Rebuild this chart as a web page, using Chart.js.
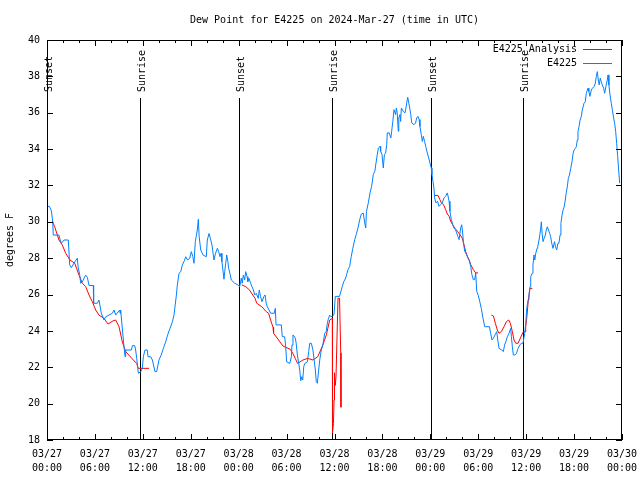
<!DOCTYPE html>
<html><head><meta charset="utf-8">
<script src="https://cdn.jsdelivr.net/npm/chart.js@4.4.1/dist/chart.umd.min.js"></script>
<style>html,body{margin:0;padding:0;background:#fff;}#wrap{width:640px;height:480px;}</style>
</head><body><div id="wrap"><canvas id="c" width="640" height="480" style="width:640px;height:480px"></canvas></div>
<script>
const chartTitle = 'Dew Point for E4225 on 2024-Mar-27 (time in UTC)';
const yAxisTitle = 'degrees F';
const seriesNames = ['E4225_Analysis', 'E4225'];
const seriesColors = ['#ff0000', '#0080ff'];
const xTickDates = ['03/27','03/27','03/27','03/27','03/28','03/28','03/28','03/28','03/29','03/29','03/29','03/29','03/30'];
const xTickTimes = ['00:00','06:00','12:00','18:00','00:00','06:00','12:00','18:00','00:00','06:00','12:00','18:00','00:00'];
const eventHours = [0.03, 11.69, 24.08, 35.72, 48.12, 59.65];
const eventLabels = ['Sunset','Sunrise','Sunset','Sunrise','Sunset','Sunrise'];

// E4225 observations: hours since 03/27 00:00 UTC, dew point (F)
const blueHours = [
0.0,0.3,0.55,0.72,0.78,1.5,1.65,1.8,2.13,2.67,
2.84,3.05,3.38,3.8,3.9,4.09,4.22,4.42,4.84,5.05,
5.26,5.8,5.84,6.3,6.51,6.8,7.14,7.35,7.76,8.18,
8.39,8.6,9.1,9.15,9.22,9.64,9.77,9.85,10.56,10.7,
10.98,11.1,11.23,11.44,11.75,11.94,12.06,12.27,12.56,12.65,
12.98,13.2,13.52,13.73,14.02,14.3,14.57,14.86,15.1,15.4,
15.7,15.9,16.05,16.2,16.32,16.53,16.75,16.95,17.15,17.37,
17.6,17.87,
18.07,18.25,18.41,18.57,18.82,18.95,19.05,19.25,19.55,19.95,
20.07,20.29,20.45,20.66,20.91,21.1,21.33,21.5,21.66,21.8,
21.9,22.0,22.16,22.25,22.38,22.5,22.65,22.75,22.9,23.08,
23.5,23.92,24.13,24.25,24.33,24.45,24.58,24.75,24.88,25.05,
25.15,25.29,25.5,25.67,25.85,26.01,26.2,26.45,26.58,26.75,
26.92,27.15,27.3,27.45,27.59,27.8,28.01,28.45,28.59,28.68,
29.34,29.46,29.76,29.89,30.01,30.4,30.6,30.68,30.8,31.1,
31.2,31.35,31.52,31.65,31.77,31.9,32.02,32.15,32.27,32.6,
32.77,32.9,33.1,33.3,33.45,33.6,33.72,33.85,34.02,34.15,
34.35,34.55,34.77,34.95,35.1,35.25,35.4,35.55,35.75,35.94,
36.1,36.63,36.98,37.15,37.4,37.55,37.69,37.9,38.1,38.3,
38.53,38.72,38.94,39.15,39.36,39.6,39.78,39.91,40.0,40.23,
40.45,40.65,40.86,41.05,41.29,41.49,41.7,41.78,41.95,42.11,
42.25,42.4,42.54,42.61,42.85,43.05,43.16,43.3,43.45,43.65,
43.75,43.85,43.99,44.05,44.2,44.28,44.37,44.6,44.82,44.95,
45.04,45.17,45.3,45.42,45.55,45.67,45.95,46.15,46.29,46.45,
46.6,46.7,46.87,47.0,47.12,47.28,47.42,47.62,47.8,47.95,
48.12,48.2,48.33,48.45,48.54,48.7,48.9,49.09,49.3,49.5,
49.7,49.9,50.13,50.35,50.45,50.63,50.8,50.95,51.15,51.3,
51.45,51.6,51.8,51.93,52.05,52.13,52.3,52.55,52.72,52.9,
53.06,53.2,53.38,53.55,53.68,53.81,54.0,
54.18,54.38,54.6,54.81,55.4,55.55,55.72,55.9,56.1,56.31,
56.45,56.6,56.95,57.14,57.3,57.45,57.64,57.85,58.06,58.15,
58.27,58.39,58.6,58.8,58.98,59.2,59.39,59.6,59.82,59.95,
60.07,60.25,60.35,60.48,60.57,60.75,60.85,60.98,61.08,61.2,
61.36,61.45,61.61,61.7,61.8,61.9,62.0,62.11,62.25,62.4,
62.52,62.65,62.8,62.95,63.07,63.2,63.36,63.55,63.68,63.82,
63.98,64.1,64.24,64.35,64.49,64.62,64.75,64.9,65.0,65.15,
65.28,65.42,65.58,65.74,65.88,66.0,66.15,66.28,66.4,66.49,
66.62,66.75,66.9,67.02,67.24,67.4,67.53,67.75,67.85,67.98,
68.16,68.3,68.5,68.66,68.78,68.91,69.03,69.15,69.28,69.4,
69.53,69.7,69.83,69.98,70.16,70.25,70.36,70.5,70.66,70.8,
70.96,71.08,71.21,71.33,71.46,71.58,71.71
];
const blueDew = [
30.85,30.85,30.6,30.0,29.27,29.27,29.0,28.82,29.0,29.0,
27.63,27.48,27.73,28.0,27.5,27.1,26.62,26.7,27.07,26.95,
26.5,26.5,25.52,25.52,25.7,24.97,24.6,24.78,24.87,24.97,
25.15,24.87,25.15,24.97,25.15,23.13,22.58,22.95,22.95,23.19,
23.19,22.95,22.5,21.67,21.76,21.95,22.58,22.95,22.95,22.58,
22.58,22.4,21.76,21.76,22.4,22.67,23.04,23.4,23.77,24.14,
24.5,24.87,25.42,25.97,26.53,27.17,27.26,27.63,27.81,28.08,
27.9,27.99,
28.36,28.1,27.72,28.91,29.55,30.14,29.2,28.45,28.17,28.08,
29.0,29.36,29.1,28.72,27.9,28.27,28.54,28.36,28.08,28.27,
27.81,27.45,26.84,27.26,27.72,28.18,27.81,27.44,27.17,26.8,
26.62,26.53,26.43,26.71,26.9,26.62,27.07,26.8,27.26,26.98,
26.71,26.89,26.62,26.43,26.25,25.98,26.07,25.79,26.25,25.88,
25.61,25.88,25.98,25.52,25.33,25.15,24.97,24.97,25.24,24.33,
24.33,23.68,23.68,23.13,22.3,22.21,22.58,23.23,23.78,23.6,
23.32,22.68,22.21,21.85,21.26,21.48,21.3,22.03,22.21,22.3,
22.86,23.32,23.32,22.95,22.4,21.85,21.21,21.12,21.85,22.4,
22.95,23.23,23.87,23.96,24.42,24.69,24.87,24.78,24.82,24.89,
25.9,25.9,26.45,26.7,26.91,27.15,27.37,27.55,28.1,28.55,
29.02,29.3,29.66,30.1,30.43,30.48,29.94,29.66,30.57,31.04,
31.59,31.95,32.6,32.78,33.51,34.06,34.15,33.88,33.7,32.96,
33.7,33.79,34.24,34.89,34.89,34.61,34.98,35.52,36.17,35.9,
36.26,35.99,34.98,35.71,35.9,35.52,36.26,36.08,35.99,36.26,
36.54,36.85,36.54,36.26,35.9,35.44,35.34,35.44,35.71,35.8,
35.62,35.25,34.79,34.42,34.7,34.42,34.15,33.79,33.51,33.24,
32.96,32.6,32.23,31.86,31.31,31.04,31.13,30.85,30.95,31.04,
31.31,31.4,31.59,31.13,30.58,30.12,29.85,29.66,29.57,29.39,
29.2,29.02,29.66,29.84,29.39,28.93,28.38,28.19,28.0,27.83,
27.55,27.1,26.82,26.82,27.19,26.18,25.95,
25.63,25.24,24.69,24.23,24.23,23.87,23.5,23.6,23.78,23.96,
23.5,23.04,22.95,22.86,23.22,23.4,23.68,23.87,24.14,23.68,
23.13,22.68,22.68,22.77,23.04,23.22,23.32,23.32,23.87,24.42,
25.24,25.7,25.97,26.43,26.98,27.17,27.63,28.18,27.9,28.27,
28.54,28.63,29.0,29.0,29.55,30.0,29.36,28.91,29.1,29.27,
29.55,29.73,29.55,29.36,29.18,28.82,28.54,28.91,28.63,28.45,
28.82,28.82,29.27,29.91,30.37,30.64,30.82,31.2,31.55,31.92,
32.39,32.57,32.94,33.31,33.77,33.95,34.04,34.13,34.5,34.96,
35.23,35.6,35.78,36.14,36.52,36.6,37.07,37.35,37.17,36.9,
37.25,37.35,37.44,37.62,37.99,38.26,37.8,37.53,37.9,37.72,
37.53,37.35,37.07,37.44,37.8,38.08,37.53,36.98,36.52,36.14,
35.69,35.42,34.96,34.32,33.58,32.85,32.12
];

// E4225_Analysis: hours, dew point (F); null marks a gap
const redHours = [
0.66,0.96,1.5,1.92,2.34,2.88,3.47,4.01,4.42,4.85,
5.26,5.67,6.1,6.51,7.14,7.64,8.26,8.6,9.02,9.43,
9.86,10.68,11.23,11.43,12.15,12.77,
18.0,
24.4,24.9,25.35,26.05,26.27,26.9,27.45,27.75,28.0,28.3,
28.37,29.0,29.54,30.46,30.8,31.08,31.38,32.05,32.64,33.3,
33.9,34.45,34.98,35.4,35.73,35.75,35.87,35.94,36.0,36.1,
36.19,36.44,36.63,36.78,36.81,
42.0,
48.59,48.96,49.21,49.38,49.65,49.92,50.13,50.35,50.55,50.8,
51.05,51.4,51.71,52.0,52.21,52.42,52.63,52.85,53.06,53.38,
53.68,53.97,
55.0,
55.64,55.9,56.14,56.39,56.6,56.89,57.23,57.52,57.82,58.02,
58.27,58.48,58.69,58.98,59.39,59.65,59.86,59.94,60.07,60.27,
60.48,60.77
];
const redDew = [
30.05,29.73,29.0,28.72,28.27,27.9,27.72,27.07,26.62,26.43,
25.98,25.61,25.15,24.87,24.69,24.38,24.55,24.6,24.23,23.4,
22.86,22.46,22.21,21.94,21.94,21.94,
null,
26.53,26.43,26.25,25.79,25.52,25.33,25.06,24.97,24.6,24.2,
23.87,23.5,23.17,22.99,22.75,22.49,22.21,22.4,22.49,22.4,
22.58,23.13,23.78,24.6,24.69,18.4,18.9,20.2,21.7,21.0,
21.5,25.8,25.8,22.8,19.8,
null,
31.45,31.45,31.21,31.04,30.95,30.67,30.43,30.3,30.03,29.84,
29.66,29.48,29.29,29.1,28.74,28.38,28.1,27.92,27.64,27.37,
27.19,27.19,
null,
24.87,24.82,24.42,24.05,23.87,23.96,24.23,24.51,24.6,24.42,
23.96,23.5,23.32,23.32,23.72,23.96,23.96,24.23,24.69,25.7,
26.34,26.34
];

const FONT = '"DejaVu Sans Mono", "Liberation Mono", monospace';
const toPts = (hs, vs) => hs.map((h, i) => ({x: h, y: vs[i]}));

const overlay = {
  id: 'overlay',
  beforeDatasetsDraw(chart) {
    const ctx = chart.ctx, a = chart.chartArea, xs = chart.scales.x;
    ctx.save();
    ctx.strokeStyle = '#000'; ctx.fillStyle = '#000'; ctx.lineWidth = 1;
    ctx.font = '10px ' + FONT;
    eventHours.forEach((h, i) => {
      const px = Math.round(xs.getPixelForValue(h)) + 0.5;
      ctx.beginPath(); ctx.moveTo(px, a.top + 58); ctx.lineTo(px, a.bottom); ctx.stroke();
      ctx.save();
      ctx.translate(px + 1.5, a.top + 52);
      ctx.rotate(-Math.PI / 2);
      ctx.textAlign = 'left'; ctx.textBaseline = 'middle';
      ctx.fillText(eventLabels[i], 0, 0);
      ctx.restore();
    });
    ctx.restore();
  },
  afterDatasetsDraw(chart) {
    const ctx = chart.ctx, a = chart.chartArea, xs = chart.scales.x, ys = chart.scales.y;
    ctx.save();
    ctx.strokeStyle = '#000'; ctx.fillStyle = '#000'; ctx.lineWidth = 1;
    ctx.strokeRect(a.left + 0.5, a.top + 0.5, a.right - a.left - 1, a.bottom - a.top - 1);
    ctx.beginPath();
    for (let h = xs.min; h <= xs.max; h += 2) {
      const px = Math.round(xs.getPixelForValue(h)) + 0.5;
      const len = (h % 6 === 0) ? 6 : 3;
      ctx.moveTo(px, a.bottom); ctx.lineTo(px, a.bottom - len);
      ctx.moveTo(px, a.top); ctx.lineTo(px, a.top + len);
    }
    ys.ticks.forEach(t => {
      const py = Math.round(ys.getPixelForValue(t.value)) + 0.5;
      ctx.moveTo(a.left, py); ctx.lineTo(a.left + 6, py);
      ctx.moveTo(a.right, py); ctx.lineTo(a.right - 6, py);
    });
    ctx.stroke();
    ctx.font = '10px ' + FONT;
    ctx.textBaseline = 'middle';
    ctx.textAlign = 'center';
    ctx.fillText(chartTitle, (a.left + a.right) / 2, 20);
    ctx.save();
    ctx.translate(10, (a.top + a.bottom) / 2);
    ctx.rotate(-Math.PI / 2);
    ctx.fillText(yAxisTitle, 0, 0);
    ctx.restore();
    ctx.textAlign = 'right';
    seriesNames.forEach((name, i) => {
      const y = a.top + 9 + i * 14;
      ctx.fillText(name, a.right - 45, y);
      ctx.save();
      ctx.strokeStyle = seriesColors[i];
      ctx.beginPath(); ctx.moveTo(a.right - 39, y + 0.5); ctx.lineTo(a.right - 10, y + 0.5); ctx.stroke();
      ctx.restore();
    });
    ctx.restore();
  }
};

new Chart(document.getElementById('c'), {
  type: 'line',
  data: {
    datasets: [
      {label: seriesNames[1], data: toPts(blueHours, blueDew), borderColor: seriesColors[1], borderWidth: 1, pointRadius: 0, fill: false, tension: 0, spanGaps: false, order: 0},
      {label: seriesNames[0], data: toPts(redHours, redDew), borderColor: seriesColors[0], borderWidth: 1, pointRadius: 0, fill: false, tension: 0, spanGaps: false, order: 1}
    ]
  },
  options: {
    responsive: false, animation: false, events: [],
    layout: {padding: {left: 0, right: 18, top: 40, bottom: 0}},
    plugins: {legend: {display: false}, tooltip: {enabled: false}, title: {display: false}},
    scales: {
      x: {
        type: 'linear', min: 0, max: 72,
        grid: {display: false, drawTicks: false}, border: {display: false},
        ticks: {stepSize: 6, autoSkip: false, maxRotation: 0, minRotation: 0, padding: 7, color: '#000',
          font: {family: FONT, size: 10, lineHeight: 1.4},
          callback: (v) => { const i = Math.round(v / 6); return [xTickDates[i], xTickTimes[i]]; }},
        afterFit: (s) => { s.height = 40; s.paddingLeft = 0; s.paddingRight = 0; }
      },
      y: {
        min: 18, max: 40,
        grid: {display: false, drawTicks: false}, border: {display: false},
        ticks: {stepSize: 2, padding: 7, color: '#000', font: {family: FONT, size: 10}},
        afterFit: (s) => { s.width = 47; s.paddingTop = 0; s.paddingBottom = 0; }
      }
    }
  },
  plugins: [overlay]
});
</script>
</body></html>
